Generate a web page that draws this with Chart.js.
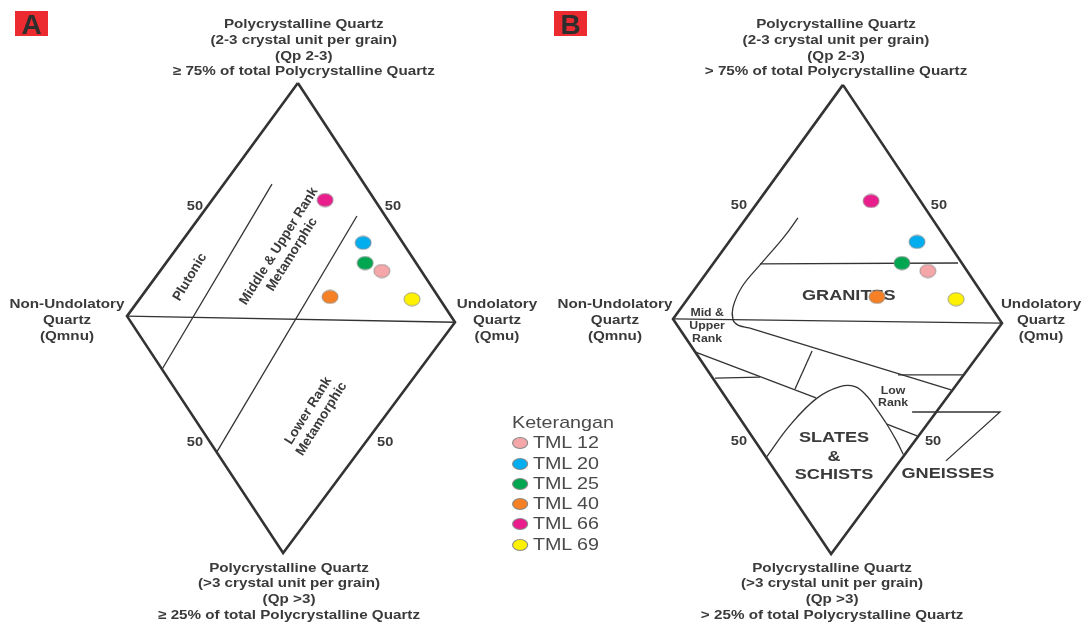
<!DOCTYPE html>
<html>
<head>
<meta charset="utf-8">
<script src="https://cdn.jsdelivr.net/npm/chart.js@4"></script>
<style>
  body { margin: 0; background: #fff; font-family: "Liberation Sans", Arial, sans-serif; }
  #wrap { position: relative; width: 1083px; height: 628px; overflow: hidden; }
  canvas { position: absolute; top: 0; }
  .tag { position: absolute; width: 33px; height: 25px; background: #ec2b31; color: #2e2e2e;
         font: bold 28px "Liberation Sans", Arial, sans-serif; line-height: 28px; text-align: center; }
  #legend { position: absolute; left: 512px; top: 413px; color: #4a4a4a; font-size: 17px;
            transform: scaleX(1.16); transform-origin: 0 0; }
  #legend .row { height: 20.3px; line-height: 20px; white-space: nowrap; }
  #legend .dot { display: inline-block; width: 14px; height: 12px; border-radius: 50%;
                 border: 1px solid #8a8a8a; box-sizing: border-box; margin-right: 4px; vertical-align: -1px; }
</style>
</head>
<body>
<div id="wrap">
  <canvas id="chartA" width="540" height="628" style="left:0px"></canvas>
  <canvas id="chartB" width="540" height="628" style="left:543px"></canvas>
  <div class="tag" style="left:15px;top:11px">A</div>
  <div class="tag" style="left:554px;top:11px">B</div>
  <div id="legend"></div>
</div>
<script>
// --- samples (diagram units: 0 = left corner / bottom corner, 100 = right corner / top corner) ---
const samples = ["TML 12", "TML 20", "TML 25", "TML 40", "TML 66", "TML 69"];
const sampleColors = ["#f4a6a8", "#00adef", "#00a650", "#f58025", "#e91e8c", "#fff200"];
const sampleXA = [77.7, 72.0, 72.6, 61.9, 60.4, 86.9];
const sampleYA = [60.0, 66.0, 61.7, 54.5, 75.1, 54.0];
const sampleXB = [77.7, 74.4, 69.8, 62.2, 60.4, 86.3];
const sampleYB = [60.0, 66.2, 61.7, 54.5, 74.9, 54.0];

// --- diamond outlines ---
const diamondA = [[52.1, 100], [100, 49.1], [47.6, 0], [0, 50.4], [52.1, 100]];
const diamondB = [[51.8, 99.6], [100.3, 48.9], [48.2, -0.2], [0, 49.8], [51.8, 99.6]];

// --- field boundaries, diagram A ---
const linesA = [
  [[0, 50.4], [100, 49.1]],
  [[44.2, 78.5], [10.7, 39.1]],
  [[70.1, 71.7], [27.4, 21.5]]
];

// --- field boundaries, diagram B ---
const linesB = [
  [[0, 49.8], [100.3, 48.9]],
  [[26.5, 61.5], [86.9, 61.7]],
  [[23.2, 47.9], [84.8, 34.7]],
  [[6.7, 42.8], [43.6, 33.0]],
  [[12.8, 37.2], [26.5, 37.4]],
  [[42.4, 43.0], [37.2, 34.9]],
  [[68.6, 37.9], [88.4, 37.9]],
  [[65.2, 27.4], [74.4, 24.9]],
  [[72.9, 30.0], [99.7, 30.0], [83.2, 19.6]]
];
const curvesB = [
  [[38.1, 71.3], [33.8, 67.2], [26.8, 61.5], [21.0, 56.6], [18.3, 52.3], [18.3, 49.6], [19.8, 48.5], [23.2, 47.9]],
  [[28.6, 20.5], [35.7, 27.2], [43.8, 32.9], [50.9, 35.4], [55.5, 35.4], [59.1, 33.4], [62.1, 30.6], [65.2, 27.4], [68.2, 23.8], [70.2, 21.0]]
];

// --- labels ---
const topTitleA = ["Polycrystalline Quartz", "(2-3 crystal unit per grain)", "(Qp 2-3)", "\u2265 75% of total Polycrystalline Quartz"];
const bottomTitleA = ["Polycrystalline Quartz", "(>3 crystal unit per grain)", "(Qp >3)", "\u2265 25% of total Polycrystalline Quartz"];
const topTitleB = ["Polycrystalline Quartz", "(2-3 crystal unit per grain)", "(Qp 2-3)", "> 75% of total Polycrystalline Quartz"];
const bottomTitleB = ["Polycrystalline Quartz", "(>3 crystal unit per grain)", "(Qp >3)", "> 25% of total Polycrystalline Quartz"];
const leftTitle = ["Non-Undolatory", "Quartz", "(Qmnu)"];
const rightTitle = ["Undolatory", "Quartz", "(Qmu)"];
const tick50A = [[20.7, 73.8], [81.1, 73.8], [20.7, 23.6], [78.7, 23.6]];
const tick50B = [[20.1, 74.0], [81.1, 74.0], [20.1, 23.8], [79.3, 23.8]];

const PX_X = 3.28, PX_Y = 4.7;   // pixels per diagram unit
const Y_ORIGIN = 553;            // bottom corner, px from top
const STRETCH = 1.17;            // the source figure is a bit wide

// slightly flattened marker, as in the source figure
function dotImage(color) {
  const c = document.createElement("canvas");
  c.width = 18; c.height = 15;
  const g = c.getContext("2d");
  g.beginPath();
  g.ellipse(9, 7.5, 8, 6.6, 0, 0, Math.PI * 2);
  g.fillStyle = color;
  g.fill();
  g.lineWidth = 0.8;
  g.strokeStyle = "#8a8a8a";
  g.stroke();
  return c;
}

function seg(points, width, tension) {
  return {
    type: "scatter",
    data: points.map(p => ({ x: p[0], y: p[1] })),
    showLine: true,
    borderColor: "#333",
    borderWidth: width,
    pointRadius: 0,
    tension: tension || 0,
    fill: false,
    clip: false,
    order: 2
  };
}

// texts go under the datasets (the TML 40 dot covers part of GRANITES)
function textPlugin(items) {
  return {
    id: "texts",
    beforeDatasetsDraw(chart) {
      const ctx = chart.ctx, sx = chart.scales.x, sy = chart.scales.y;
      items.forEach(t => {
        ctx.save();
        ctx.fillStyle = t.color || "#3a3a3a";
        ctx.font = t.font;
        ctx.textAlign = "center";
        ctx.textBaseline = "middle";
        ctx.translate(sx.getPixelForValue(t.x), sy.getPixelForValue(t.y));
        if (t.rot) ctx.rotate(t.rot * Math.PI / 180);
        else ctx.scale(STRETCH, 1);
        const lh = t.lh || 16;
        const off = (t.lines.length - 1) * lh / 2;
        t.lines.forEach((l, i) => ctx.fillText(l, 0, i * lh - off));
        ctx.restore();
      });
    }
  };
}

function buildChart(id, originPx, canvasLeft, diamond, lines, curves, xs, ys, texts) {
  const local = originPx - canvasLeft;
  const xmin = -local / PX_X, xmax = xmin + 540 / PX_X;
  const ymin = -(628 - Y_ORIGIN) / PX_Y, ymax = Y_ORIGIN / PX_Y;

  const datasets = [seg(diamond, 2.6)];
  lines.forEach(l => datasets.push(seg(l, 1.3)));
  curves.forEach(c => datasets.push(seg(c, 1.3, 0.4)));
  samples.forEach((name, i) => {
    datasets.push({
      type: "scatter",
      label: name,
      data: [{ x: xs[i], y: ys[i] }],
      pointStyle: dotImage(sampleColors[i]),
      pointRadius: 8,
      clip: false,
      order: 1
    });
  });

  return new Chart(document.getElementById(id).getContext("2d"), {
    type: "scatter",
    data: { datasets: datasets },
    options: {
      responsive: false,
      animation: false,
      events: [],
      layout: { padding: 0, autoPadding: false },
      scales: {
        x: { type: "linear", display: false, min: xmin, max: xmax },
        y: { type: "linear", display: false, min: ymin, max: ymax }
      },
      plugins: { legend: { display: false }, tooltip: { enabled: false } }
    },
    plugins: [textPlugin(texts)]
  });
}

const F_TITLE = "bold 13px 'Liberation Sans', Arial, sans-serif";
const F_50 = "bold 12.5px 'Liberation Sans', Arial, sans-serif";
const F_FIELD = "bold 13.5px 'Liberation Sans', Arial, sans-serif";
const F_BIG = "bold 15.5px 'Liberation Sans', Arial, sans-serif";
const F_SMALL = "bold 10.5px 'Liberation Sans', Arial, sans-serif";

function sideTexts(topT, botT, cxTop, cxBot, cxL, cxR, ticks) {
  const arr = [
    { lines: topT, x: cxTop, y: 107.4, font: F_TITLE, lh: 15.8 },
    { lines: botT, x: cxBot, y: -8.2, font: F_TITLE, lh: 15.7 },
    { lines: leftTitle, x: cxL, y: 49.4, font: F_TITLE, lh: 16 },
    { lines: rightTitle, x: cxR, y: 49.4, font: F_TITLE, lh: 16 }
  ];
  ticks.forEach(t => arr.push({ lines: ["50"], x: t[0], y: t[1], font: F_50 }));
  return arr;
}

const textsA = sideTexts(topTitleA, bottomTitleA, 53.9, 49.4, -18.3, 112.8, tick50A).concat([
  { lines: ["Plutonic"], x: 19.2, y: 58.7, font: F_FIELD, rot: -59 },
  { lines: ["Middle & Upper Rank", "Metamorphic"], x: 48.3, y: 64.4, font: F_FIELD, rot: -58, lh: 15.5 },
  { lines: ["Lower Rank", "Metamorphic"], x: 57.3, y: 29.4, font: F_FIELD, rot: -58, lh: 15.5 }
]);

const textsB = sideTexts(topTitleB, bottomTitleB, 49.7, 48.5, -17.7, 112.2, tick50B).concat([
  { lines: ["GRANITES"], x: 53.6, y: 54.7, font: F_BIG },
  { lines: ["Mid &", "Upper", "Rank"], x: 10.4, y: 48.2, font: F_SMALL, lh: 13 },
  { lines: ["Low", "Rank"], x: 67.1, y: 33.2, font: F_SMALL, lh: 12.5 },
  { lines: ["SLATES", "&", "SCHISTS"], x: 49.1, y: 20.5, font: F_BIG, lh: 18.5 },
  { lines: ["GNEISSES"], x: 83.8, y: 16.8, font: F_BIG }
]);

buildChart("chartA", 127, 0, diamondA, linesA, [], sampleXA, sampleYA, textsA);
buildChart("chartB", 673, 543, diamondB, linesB, curvesB, sampleXB, sampleYB, textsB);

// legend
const legend = document.getElementById("legend");
let html = '<div class="row">Keterangan</div>';
samples.forEach((name, i) => {
  html += '<div class="row"><span class="dot" style="background:' + sampleColors[i] + '"></span>' + name + '</div>';
});
legend.innerHTML = html;
</script>
</body>
</html>
